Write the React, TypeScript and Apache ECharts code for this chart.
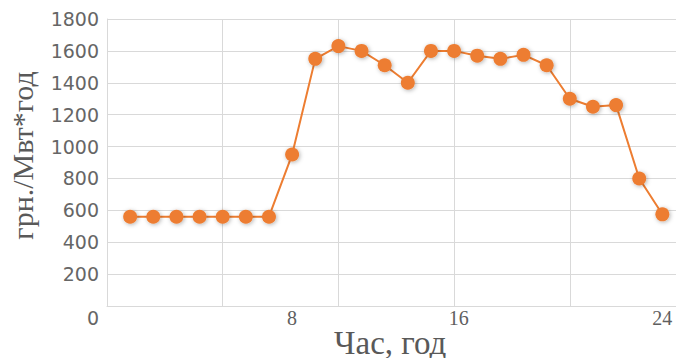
import React, { useEffect, useRef } from "react";
import * as echarts from "echarts";

// Hour of day (x) and electricity price, UAH per MWh (y)
const hours = [1, 2, 3, 4, 5, 6, 7, 8, 9, 10, 11, 12, 13, 14, 15, 16, 17, 18, 19, 20, 21, 22, 23, 24];
const prices = [560, 560, 560, 560, 560, 560, 560, 950, 1550, 1630, 1600, 1510, 1400, 1600, 1600, 1570, 1550, 1575, 1510, 1300, 1250, 1260, 800, 575];

// Hour labels along the bottom axis and where they sit on it
const hourLabelText = ["8", "16", "24"];
const hourLabelAt = [8, 15.2, 24];

const yTitle = "грн./Мвт*год";
const xTitle = "Час, год";

const GRID = "#d9d9d9";
const ORANGE = "#ED7D31";

export default function App() {
  const ref = useRef<HTMLDivElement>(null);

  useEffect(() => {
    if (!ref.current) return;
    const chart = echarts.init(ref.current, undefined, { renderer: "svg" });
    chart.setOption({
      animation: false,
      backgroundColor: "#ffffff",
      grid: {
        left: 107,
        top: 19,
        right: 14.5,
        bottom: 52,
        containLabel: false,
        outerBoundsMode: "none",
      },
      xAxis: {
        type: "value",
        min: 0,
        max: 25,
        interval: 5,
        axisLine: { show: true, lineStyle: { color: GRID, width: 1 } },
        axisTick: { show: false },
        splitLine: { show: true, lineStyle: { color: GRID, width: 1 } },
        axisLabel: {
          customValues: hourLabelAt,
          formatter: (v: number) => {
            const i = hourLabelAt.indexOf(v);
            return i >= 0 ? hourLabelText[i] : "";
          },
          fontFamily: "Liberation Serif",
          fontSize: 20,
          color: "#5f5f5f",
          margin: 2,
        },
        name: xTitle,
        nameLocation: "middle",
        nameGap: 20,
        nameMoveOverlap: false,
        nameTextStyle: {
          fontFamily: "Liberation Serif",
          fontSize: 33,
          color: "#595959",
          verticalAlign: "top",
          padding: [0, 12, 0, 0],
        },
      },
      yAxis: {
        type: "value",
        min: 0,
        max: 1800,
        interval: 200,
        axisLine: { show: true, lineStyle: { color: GRID, width: 1 } },
        axisTick: { show: false },
        splitLine: { show: true, lineStyle: { color: GRID, width: 1 } },
        axisLabel: {
          fontFamily: "DejaVu Sans",
          fontSize: 19,
          color: "#666666",
          margin: 8,
          formatter: (v: number) => (v === 0 ? "{low|0}" : String(v)),
          rich: {
            low: {
              fontFamily: "DejaVu Sans",
              fontSize: 19,
              color: "#666666",
              padding: [24, 0, 0, 0],
            },
          },
        },
        name: yTitle,
        nameLocation: "middle",
        nameGap: 70,
        nameMoveOverlap: false,
        nameTextStyle: {
          fontFamily: "Liberation Serif",
          fontSize: 30,
          color: "#595959",
          padding: [0, 0, 0, 14],
        },
      },
      series: [
        {
          type: "line",
          data: hours.map((h, i) => [h, prices[i]]),
          symbol: "circle",
          symbolSize: 14,
          lineStyle: { color: ORANGE, width: 2 },
          itemStyle: {
            color: ORANGE,
            shadowColor: "rgba(0,0,0,0.3)",
            shadowBlur: 4,
            shadowOffsetX: 1,
            shadowOffsetY: 1,
          },
          z: 3,
        },
      ],
    });
    return () => chart.dispose();
  }, []);

  return (
    <div
      style={{
        position: "fixed",
        left: 0,
        top: 0,
        width: 676,
        height: 358,
        overflow: "hidden",
        background: "#fff",
      }}
    >
      <div ref={ref} style={{ width: 700, height: 358 }} />
    </div>
  );
}
